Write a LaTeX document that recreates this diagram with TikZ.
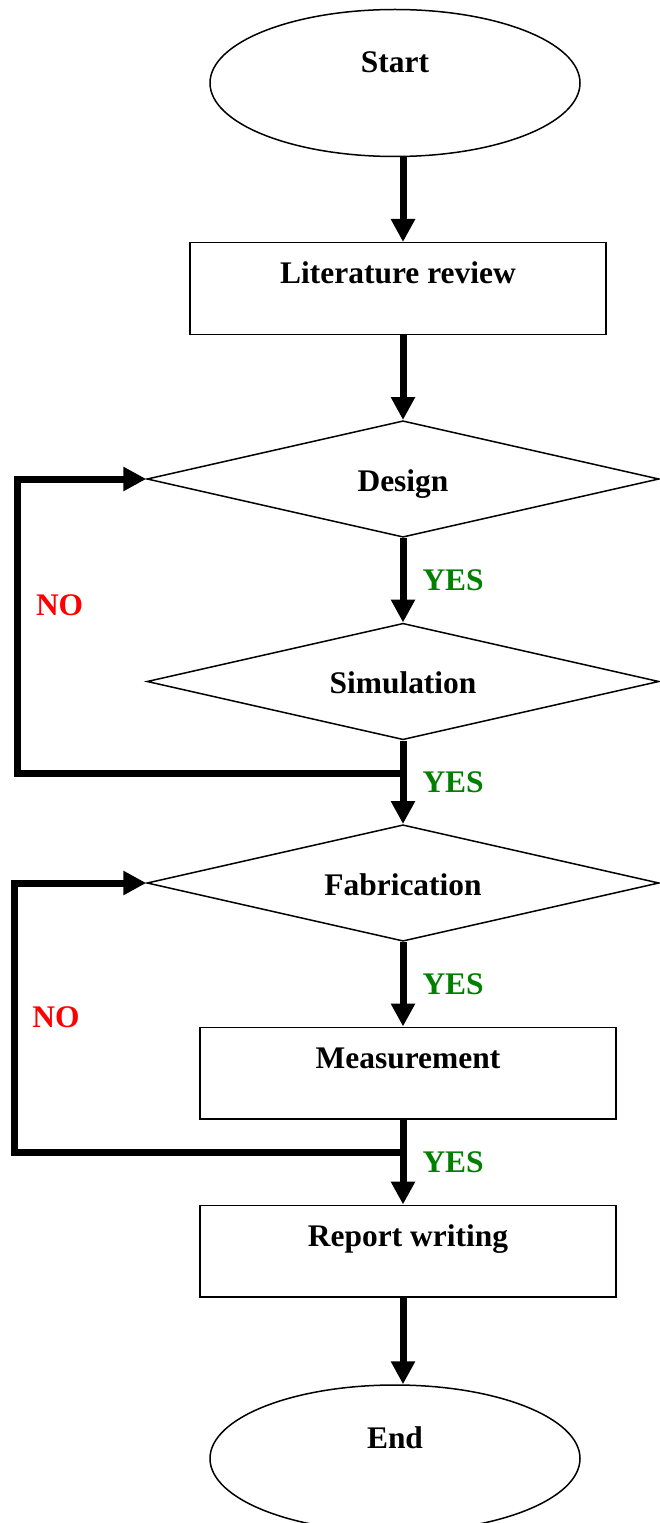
\documentclass[tikz,border=0pt]{standalone}
\usepackage{fontspec}
\setmainfont{Liberation Serif}
\usepackage{xcolor}
\definecolor{yesgreen}{RGB}{0,128,0}
\definecolor{nored}{RGB}{255,0,0}
\usepackage{tikz}
\usetikzlibrary{arrows.meta,shapes.geometric}

\begin{document}
\begin{tikzpicture}[>={Triangle[length=0.46cm,width=0.46cm]},
    every node/.style={font=\fontsize{17.9}{21}\selectfont\bfseries},
    term/.style={draw, ellipse, line width=0.03cm, minimum width=7.4cm, minimum height=2.94cm, text height=0.45cm, text depth=0.85cm},
    box/.style={draw, line width=0.03cm, minimum width=8.32cm, minimum height=1.83cm, text height=0.45cm, text depth=0.65cm},
    test/.style={draw, diamond, aspect=4.4, line width=0.03cm, minimum width=10.24cm, minimum height=2.33cm, text height=0.7cm, text depth=0.22cm},
    flow/.style={->, line width=0.14cm},
    yeslabel/.style={right=0.32cm, inner sep=0pt, text=yesgreen},
    nolabel/.style={right=0.3cm, inner sep=0pt, text=nored}]
        \useasboundingbox (0,0) rectangle (13.18,-30.46);

        \node (start) [term] at (7.90,-1.66) {Start};
        \node (lit) [box] at (7.96,-5.77) {Literature review};
        \node (design) [test] at (8.06,-9.58) {Design};
        \node (sim) [test] at (8.06,-13.63) {Simulation};
        \node (fab) [test] at (8.06,-17.66) {Fabrication};
        \node (meas) [box] at (8.16,-21.46) {Measurement};
        \node (report) [box] at (8.16,-25.02) {Report writing};
        \node (stop) [term] at (7.90,-29.17) {End};

        % main flow
        \coordinate (axis) at (8.06,0);
        \draw[flow] (start.south -| axis) -- (lit.north -| axis);
        \draw[flow] (lit.south -| axis) -- (design.north);
        \draw[flow] (design.south) -- node[yeslabel]{YES} (sim.north);
        \draw[flow] (sim.south) -- node[yeslabel]{YES} (fab.north);
        \draw[flow] (fab.south) -- node[yeslabel]{YES} (meas.north -| axis);
        \draw[flow] (meas.south -| axis) -- node[yeslabel]{YES} (report.north -| axis);
        \draw[flow] (report.south -| axis) -- (stop.north -| axis);

        % NO loops
        \coordinate (j1) at (8.06,-15.46);
        \coordinate (c1) at (0.35,-15.46);
        \draw[flow] (j1) -- (c1) |- node[nolabel, pos=0.285]{NO} (design.west);
        \coordinate (j2) at (8.06,-23.04);
        \coordinate (c2) at (0.28,-23.04);
        \draw[flow] (j2) -- (c2) |- node[nolabel, pos=0.25]{NO} (fab.west);
      \end{tikzpicture}
\end{document}
